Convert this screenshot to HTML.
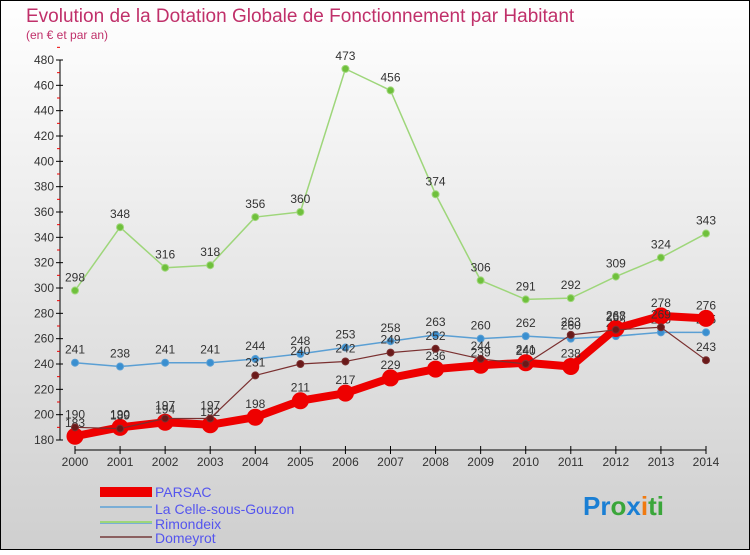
<!DOCTYPE html>
<html><head><meta charset="utf-8"><style>
body{margin:0;width:750px;height:550px;overflow:hidden;font-family:"Liberation Sans",sans-serif}
</style></head><body>
<svg id="chart" width="750" height="550" xmlns="http://www.w3.org/2000/svg">
<defs><linearGradient id="bg" x1="0" y1="0" x2="0" y2="1"><stop offset="0" stop-color="#ffffff"/><stop offset="1" stop-color="#cfcfcf"/></linearGradient></defs>
<rect x="0.5" y="0.5" width="749" height="549" fill="url(#bg)" stroke="#000"/>
<text x="26" y="22" font-size="19" fill="#c0306a">Evolution de la Dotation Globale de Fonctionnement par Habitant</text>
<text x="26" y="39" font-size="12" fill="#c0306a">(en € et par an)</text>
<g id="axes"></g><g id="series"></g>
<g font-size="14" fill="#5555ee">
<rect x="100" y="487" width="52" height="10" fill="#ee0000"/><text x="155" y="497" fill="#5555ee">PARSAC</text>
<line x1="100" y1="523" x2="152" y2="523" stroke="#7aaed6" stroke-width="2"/><text x="155" y="514" fill="#5555ee">La Celle-sous-Gouzon</text>
<line x1="100" y1="522" x2="152" y2="522" stroke="#7aaed6" stroke-width="0"/>
<line x1="100" y1="523" x2="152" y2="523" stroke="#9ed67a" stroke-width="0"/>
<line x1="100" y1="507" x2="152" y2="507" stroke="#7aaed6" stroke-width="2"/>
<line x1="100" y1="522" x2="152" y2="522" stroke="#9ed67a" stroke-width="2"/><text x="155" y="529" fill="#5555ee">Rimondeix</text>
<line x1="100" y1="537" x2="152" y2="537" stroke="#8b6060" stroke-width="2"/><text x="155" y="543" fill="#5555ee">Domeyrot</text>
</g>
<text x="583" y="515" font-size="26" font-weight="bold"><tspan fill="#1a7fd4">Pr</tspan><tspan fill="#3aa63a">o</tspan><tspan fill="#1a7fd4">x</tspan><tspan fill="#f07a10">i</tspan><tspan fill="#3aa63a">ti</tspan></text>
</svg>
<script>
const years=[2000,2001,2002,2003,2004,2005,2006,2007,2008,2009,2010,2011,2012,2013,2014];
const parsac=[183,190,194,192,198,211,217,229,236,239,241,238,268,278,276];
const celle=[241,238,241,241,244,248,253,258,263,260,262,260,262,265,265];
const rimondeix=[298,348,316,318,356,360,473,456,374,306,291,292,309,324,343];
const domeyrot=[190,189,197,197,231,240,242,249,252,244,240,263,267,269,243];
const yTicks=[180,200,220,240,260,280,300,320,340,360,380,400,420,440,460,480];
const NS="http://www.w3.org/2000/svg";
const x=i=>75+i*(706-75)/(years.length-1);
const y=v=>440-(v-180)*(380/300);
function mk(tag,attrs,parent){const e=document.createElementNS(NS,tag);for(const k in attrs)e.setAttribute(k,attrs[k]);parent.appendChild(e);return e;}
const ax=document.getElementById('axes');
const yl=mk('line',{x1:60,y1:y(480),x2:60,y2:y(180),stroke:'#000'},ax);


yTicks.forEach(t=>{
 mk('line',{x1:56,y1:y(t),x2:63,y2:y(t),stroke:'#000'},ax);
 mk('line',{x1:57,y1:y(t+10),x2:60,y2:y(t+10),stroke:'#e00'},ax);
 const tx=mk('text',{x:54,y:y(t)+4,'font-size':12,'text-anchor':'end',fill:'#333'},ax);
 tx.textContent=t;
 
 
});
const xl=mk('line',{x1:x(0),y1:450,x2:x(years.length-1),y2:450,stroke:'#000'},ax);


years.forEach((yr,i)=>{
 mk('line',{x1:x(i),y1:446,x2:x(i),y2:454,stroke:'#000'},ax);
 const tx=mk('text',{x:x(i),y:466,'font-size':12,'text-anchor':'middle',fill:'#333'},ax);
 tx.textContent=yr;
 
 
});
const sg=document.getElementById('series');
function draw(vals,name,color,w,r,dot){
 const g=mk('g',{},sg);
 
 
 mk('polyline',{points:vals.map((v,i)=>x(i)+','+y(v)).join(' '),fill:'none',stroke:color,'stroke-width':w,'stroke-linejoin':'round'},g);
 vals.forEach((v,i)=>{
  const c=mk('circle',{cx:x(i),cy:y(v),r:r,fill:dot,stroke:color,'stroke-width':1},g);
  
  
  const t=mk('text',{x:x(i),y:y(v)-9,'font-size':12,'text-anchor':'middle',fill:'#333'},g);
  t.textContent=v;
  
  
 });
}
draw(rimondeix,'rimondeix','#9ed67a',1.5,3.5,'#6fc03c');
draw(celle,'la-celle-sous-gouzon','#5a9fd4',1.5,3.5,'#3a8fd0');
draw(parsac,'parsac','#ee0000',8,8,'#ee0000');
draw(domeyrot,'domeyrot','#7a3030',1.2,3.5,'#6a1a1a');
</script>
</body></html>
